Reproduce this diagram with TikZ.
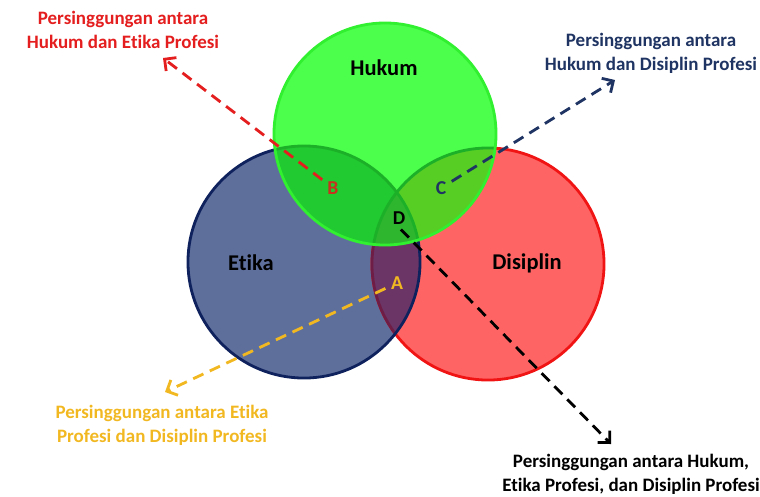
\documentclass[tikz,border=0pt]{standalone}
\usepackage{fontspec}
\setmainfont{Carlito}[Ligatures=NoCommon]
\usepackage{xcolor}
\usepackage{tikz}
\usetikzlibrary{arrows.meta}
\definecolor{EtikaFill}{RGB}{94,111,156}
\definecolor{EtikaLine}{RGB}{16,34,94}
\definecolor{DisFill}{RGB}{255,100,100}
\definecolor{DisLine}{RGB}{240,20,20}
\definecolor{OverA}{RGB}{107,53,102}
\definecolor{OverALine}{RGB}{110,30,70}
\definecolor{HukumFill}{RGB}{76,255,76}
\definecolor{HukumLine}{RGB}{48,240,48}
\definecolor{OverB}{RGB}{32,202,48}
\definecolor{OverC}{RGB}{86,206,36}
\definecolor{OverD}{RGB}{46,182,46}
\definecolor{UnderLine}{RGB}{28,176,40}
\definecolor{NoteRed}{RGB}{228,30,30}
\definecolor{NoteNavy}{RGB}{31,52,98}
\definecolor{NoteGold}{RGB}{242,184,34}
\definecolor{LetterB}{RGB}{200,50,30}

\begin{document}
\begin{tikzpicture}[
  x=0.025cm, y=-0.025cm,
  ring/.style={line width=2pt},
  title/.style={font=\fontsize{16}{19}\selectfont\bfseries},
  letter/.style={font=\fontsize{14}{16}\selectfont\bfseries, inner sep=2pt},
  note/.style={font=\fontsize{13.5}{17}\selectfont\bfseries, align=center},
  arr/.style={line width=2pt, dash pattern=on 8pt off 5pt,
    -{Straight Barb[length=6pt, width=12pt, line width=2pt]}, shorten <=2pt},
]
  \useasboundingbox (0,0) rectangle (760,496);

  \coordinate (hc) at (385,134);
  \coordinate (ec) at (304,262);
  \coordinate (dc) at (488,264);
  \def\rH{2.775cm}
  \def\rE{2.9cm}
  \def\rD{2.9cm}

  % etika and disiplin
  \fill[EtikaFill] (ec) circle[radius=\rE];
  \fill[DisFill] (dc) circle[radius=\rD];
  \draw[ring, DisLine] (dc) circle[radius=\rD];
  \begin{scope}
    \clip (ec) circle[radius=\rE];
    \fill[OverA] (dc) circle[radius=\rD];
    \draw[ring, OverALine] (dc) circle[radius=\rD];
  \end{scope}
  \draw[ring, EtikaLine] (ec) circle[radius=\rE];

  % hukum on top
  \fill[HukumFill] (hc) circle[radius=\rH];
  \begin{scope}
    \clip (hc) circle[radius=\rH];
    \fill[OverB] (ec) circle[radius=\rE];
    \fill[OverC] (dc) circle[radius=\rD];
    \begin{scope}
      \clip (ec) circle[radius=\rE];
      \fill[OverD] (dc) circle[radius=\rD];
    \end{scope}
    \draw[ring, UnderLine] (ec) circle[radius=\rE];
    \draw[ring, UnderLine] (dc) circle[radius=\rD];
  \end{scope}
  \draw[ring, HukumLine] (hc) circle[radius=\rH];

  \node[title] (hukum) at (384,68) {Hukum};
  \node[title] (etika) at (251,263) {Etika};
  \node[title] (disiplin) at (527,263) {Disiplin};

  \node[letter, text=LetterB] (B) at (333,188) {B};
  \node[letter, text=NoteNavy] (C) at (441,188) {C};
  \node[letter] (D) at (399,218) {D};
  \node[letter, text=NoteGold] (A) at (397,283) {A};

  \node[note, text=NoteRed] (noteB) at (123,30) {Persinggungan antara\\Hukum dan Etika Profesi};
  \node[note, text=NoteNavy] (noteC) at (651,53) {Persinggungan antara\\Hukum dan Disiplin Profesi};
  \node[note, text=NoteGold] (noteA) at (162,425) {Persinggungan antara Etika\\Profesi dan Disiplin Profesi};
  \node[note] (noteD) at (631,474) {Persinggungan antara Hukum,\\Etika Profesi, dan Disiplin Profesi};

  \coordinate (tipB) at (163,58);
  \coordinate (tipC) at (615,80);
  \coordinate (tipA) at (165,392);
  \coordinate (tipD) at (611,444);

  \draw[arr, NoteRed] (B) -- (tipB);
  \draw[arr, NoteNavy] (C) -- (tipC);
  \draw[arr, NoteGold] (A) -- (tipA);
  \draw[arr, black] (D.south) -- (tipD);
\end{tikzpicture}
\end{document}
